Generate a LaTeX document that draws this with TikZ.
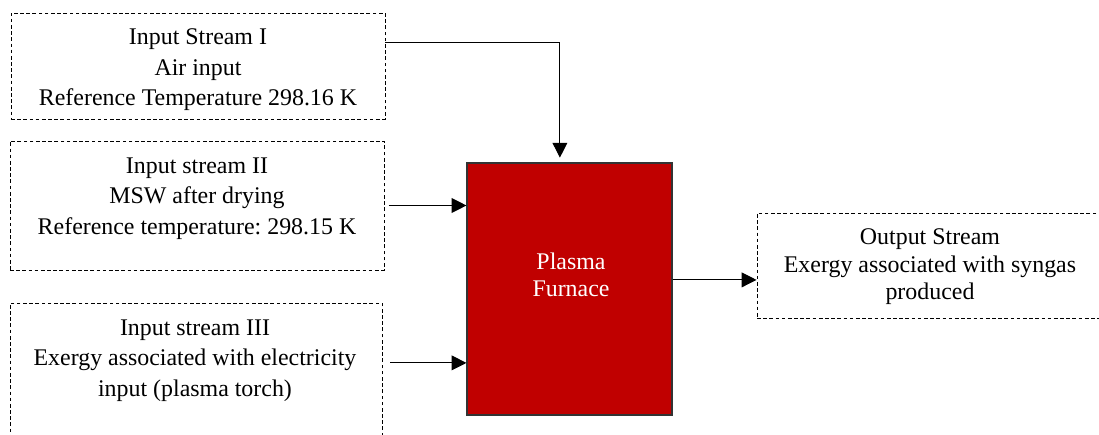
\documentclass[tikz,border=0pt]{standalone}
\usepackage{fontspec}
\setmainfont{Liberation Serif}
\usetikzlibrary{arrows.meta}
\definecolor{furnacered}{HTML}{C00000}
\frenchspacing

\begin{document}
\begin{tikzpicture}[
  streambox/.style={draw, dash pattern=on 2.6pt off 1.8pt, line width=0.7pt, inner sep=0pt},
  streamtext/.style={align=center, inner sep=0pt, font=\fontsize{17}{21.7}\selectfont},
  furnacebox/.style={draw=black!80, line width=0.8pt, fill=furnacered, inner sep=0pt},
  flow/.style={line width=0.7pt, -{Triangle[length=0.37cm, width=0.37cm]}}
]
% Canvas (same proportions as the page)
\useasboundingbox (0,0) rectangle (27.475,10.85);
\clip (0,0) rectangle (27.475,10.85);

% Input streams
\node[streambox, minimum width=9.35cm, minimum height=2.65cm] (stream1) at (4.95, 9.2) {};
\node[streamtext] (stream1 text) at (4.95, 9.1) {Input Stream I\\Air input\\Reference Temperature 298.16 K};
\node[streambox, minimum width=9.35cm, minimum height=3.225cm] (stream2) at (4.925, 5.7125) {};
\node[streamtext] (stream2 text) at (4.925, 5.8875) {Input stream II\\MSW after drying\\Reference temperature: 298.15 K};
\node[streambox, minimum width=9.3cm, minimum height=3.775cm] (stream3) at (4.9, 1.3875) {};
\node[streamtext] (stream3 text) at (4.875, 1.8375) {Input stream III\\Exergy associated with electricity\\input (plasma torch)};

% Furnace
\node[furnacebox, minimum width=5.125cm, minimum height=6.3cm] (furnace) at (14.2375, 3.625) {};
\node[streamtext, text=white, font=\fontsize{17}{19.3}\selectfont] (furnace text) at (14.275, 3.9875) {Plasma\\Furnace};

% Output stream
\node[streambox, minimum width=8.65cm, minimum height=2.625cm] (output) at (23.25, 4.2125) {};
\node[streamtext, font=\fontsize{17}{19.5}\selectfont] (output text) at (23.25, 4.175) {Output Stream\\Exergy associated with syngas\\produced};

% Connectors
\coordinate (in1) at ([yshift=0.6cm]stream1.east);
\coordinate (in3) at ([yshift=0.39cm]stream3.east);
\coordinate (out) at ([yshift=-0.36cm]output.west);
\draw[flow, shorten >=0.12cm] (in1) -| ([xshift=-0.24cm]furnace.north);
\draw[flow, shorten <=0.11cm] (stream2.east) -- (stream2.east -| furnace.west);
\draw[flow, shorten <=0.2cm] (in3) -- (in3 -| furnace.west);
\draw[flow] (out -| furnace.east) -- (out);
\end{tikzpicture}
\end{document}
